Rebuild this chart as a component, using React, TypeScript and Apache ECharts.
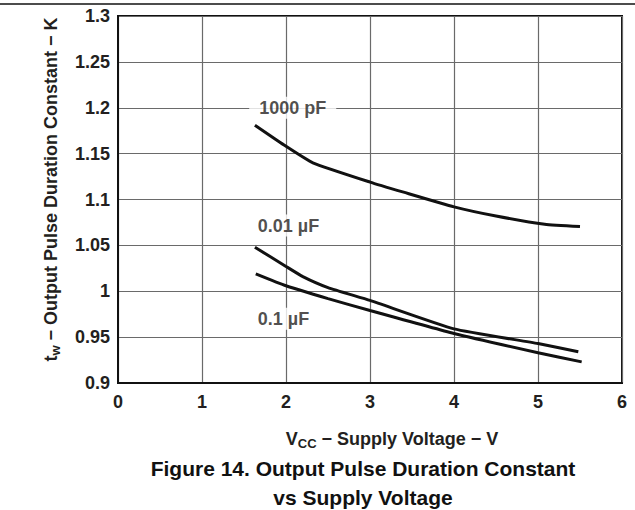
import React, { useEffect, useRef } from "react";
import * as echarts from "echarts";

const xTicks = [0, 1, 2, 3, 4, 5, 6];
const yTickLabels = ["0.9", "0.95", "1", "1.05", "1.1", "1.15", "1.2", "1.25", "1.3"];

const seriesNames = ["1000 pF", "0.01 µF", "0.1 µF"];
const pf1000: [number, number][] = [
  [1.63, 1.181], [2.0, 1.158], [2.32, 1.14], [3.0, 1.119], [3.4, 1.108],
  [4.0, 1.092], [4.5, 1.082], [5.08, 1.073], [5.5, 1.0705],
];
const uf001: [number, number][] = [
  [1.63, 1.048], [2.0, 1.027], [2.2, 1.016], [2.5, 1.004], [3.0, 0.99],
  [4.0, 0.959], [5.0, 0.943], [5.48, 0.934],
];
const uf01: [number, number][] = [
  [1.64, 1.019], [2.0, 1.006], [2.5, 0.992], [3.0, 0.979], [4.0, 0.954],
  [5.0, 0.933], [5.52, 0.923],
];
// annotation anchor points (data units)
const labelPoints: [number, number][] = [
  [2.08, 1.2],
  [2.03, 1.0716],
  [1.97, 0.97],
];

const FONT = "'Liberation Sans', Arial, Helvetica, sans-serif";
const TXT = "#231f20";

const nameRich = {
  t: { fontFamily: FONT, fontWeight: "bold", fontSize: 18, color: TXT, lineHeight: 22 },
  s: {
    fontFamily: FONT, fontWeight: "bold", fontSize: 13, color: TXT,
    lineHeight: 13, verticalAlign: "bottom", padding: [9, 0, 0, 0],
  },
};

export default function App() {
  const ref = useRef<HTMLDivElement>(null);
  useEffect(() => {
    if (!ref.current) return;
    const chart = echarts.init(ref.current, undefined, { renderer: "svg" });
    const lineSeries = [pf1000, uf001, uf01].map((d, i) => ({
      type: "line",
      name: seriesNames[i],
      data: d,
      showSymbol: false,
      symbol: "none",
      smooth: 0.15,
      lineStyle: { color: "#111", width: 3 },
      z: 3,
    }));
    chart.setOption({
      animation: false,
      backgroundColor: "#fff",
      grid: {
        left: 118,
        top: 16,
        right: 13,
        bottom: 127,
        show: true,
        borderColor: "#111",
        borderWidth: 2,
        backgroundColor: "transparent",
      },
      xAxis: {
        type: "value",
        min: 0,
        max: 6,
        interval: 1,
        axisLine: { show: true, lineStyle: { color: "#111", width: 2 } },
        axisTick: { show: false },
        axisLabel: {
          margin: 10,
          fontFamily: FONT,
          fontWeight: "bold",
          fontSize: 18,
          color: TXT,
          formatter: (v: number) => String(xTicks.find((t) => Math.abs(t - v) < 1e-6) ?? v),
        },
        splitLine: { show: true, lineStyle: { color: "#6a6a6a", width: 1.2 } },
        name: "{t|V}{s|CC}{t| − Supply Voltage − V}",
        nameLocation: "middle",
        nameGap: 45,
        nameTextStyle: { rich: nameRich, padding: [0, 0, 0, 44] },
      },
      yAxis: {
        type: "value",
        min: 0.9,
        max: 1.3,
        interval: 0.05,
        axisLine: { show: true, lineStyle: { color: "#111", width: 2 } },
        axisTick: { show: false },
        axisLabel: {
          margin: 8,
          fontFamily: FONT,
          fontWeight: "bold",
          fontSize: 18,
          color: TXT,
          formatter: (v: number) => {
            const idx = Math.round((v - 0.9) / 0.05);
            return yTickLabels[idx] ?? String(v);
          },
        },
        splitLine: { show: true, lineStyle: { color: "#6a6a6a", width: 1.2 } },
        name: "{t|t}{s|w}{t| − Output Pulse Duration Constant − K}",
        nameLocation: "middle",
        nameRotate: 90,
        nameGap: 56,
        nameTextStyle: { rich: nameRich, padding: [0, 0, 0, 20] },
      },
      series: [
        ...lineSeries,
        {
          type: "scatter",
          data: labelPoints.map((p, i) => ({ value: p, name: seriesNames[i] })),
          symbolSize: 1,
          itemStyle: { color: "transparent" },
          silent: true,
          z: 4,
          label: {
            show: true,
            position: "inside",
            formatter: "{b}",
            fontFamily: FONT,
            fontWeight: "bold",
            fontSize: 18,
            color: TXT,
            backgroundColor: "#fff",
            padding: [2, 10],
          },
        },
      ],
      graphic: [
        {
          type: "line",
          shape: { x1: 0, y1: 4, x2: 635, y2: 4 },
          style: { stroke: "#111", lineWidth: 1.5 },
        },
        {
          type: "text",
          x: 363,
          y: 468,
          style: {
            text: "Figure 14. Output Pulse Duration Constant",
            fontFamily: FONT,
            fontWeight: "bold",
            fontSize: 21,
            fill: "#111",
            textAlign: "center",
            textVerticalAlign: "middle",
          },
        },
        {
          type: "text",
          x: 363,
          y: 497,
          style: {
            text: "vs Supply Voltage",
            fontFamily: FONT,
            fontWeight: "bold",
            fontSize: 21,
            fill: "#111",
            textAlign: "center",
            textVerticalAlign: "middle",
          },
        },
      ],
    });
    return () => chart.dispose();
  }, []);
  return (
    <div
      ref={ref}
      style={{ position: "fixed", left: 0, top: 0, width: 635, height: 510, background: "#fff" }}
    />
  );
}
